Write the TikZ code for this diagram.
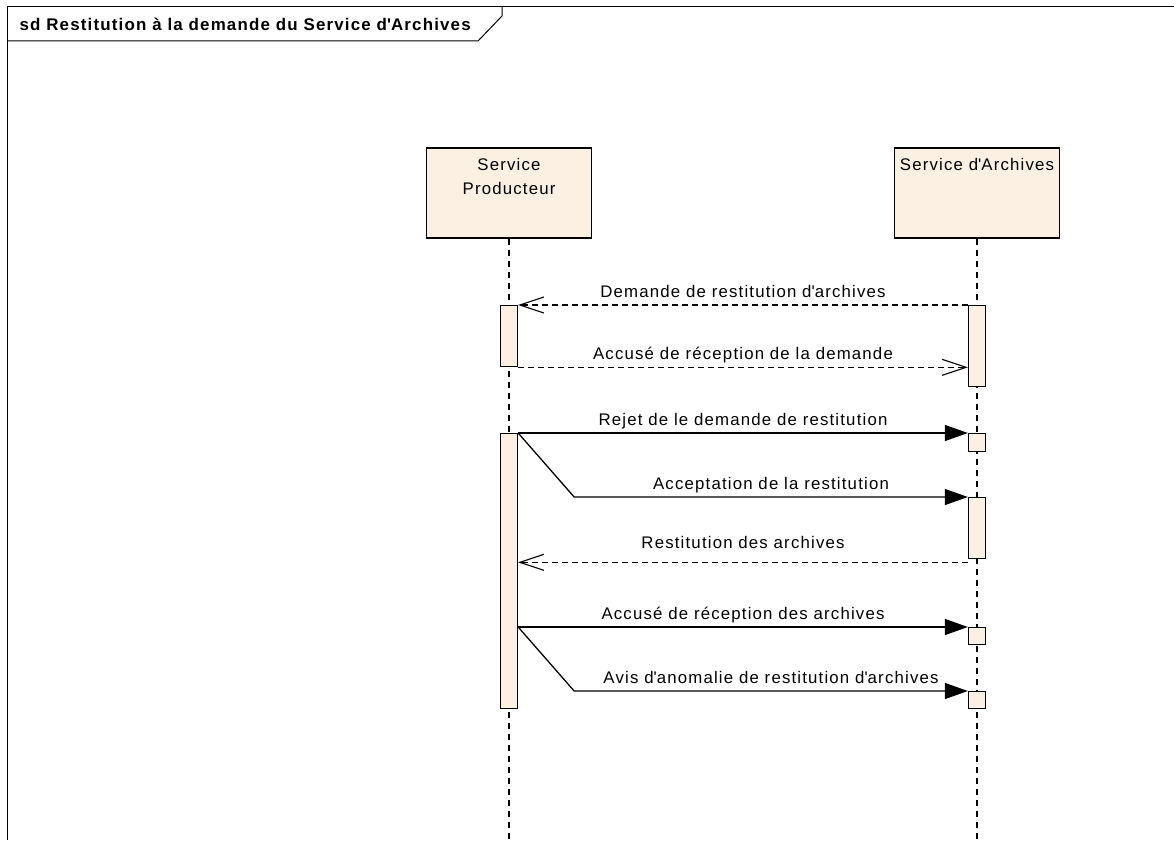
\documentclass[tikz,border=0pt]{standalone}
\usepackage{fontspec}
\setmainfont{Liberation Sans}[LetterSpace=7]
\usetikzlibrary{arrows.meta}
\definecolor{lifefill}{RGB}{251,240,226}
\newcommand{\apos}{\textquotesingle}

\begin{document}
\begin{tikzpicture}[x=1pt, y=-1pt,
    font=\fontsize{16.8}{24}\selectfont,
    head/.style={draw, line width=1.6pt, fill=lifefill, minimum width=165pt, minimum height=90pt, inner sep=0pt},
    act/.style={draw, line width=1.3pt, fill=lifefill, minimum width=17pt, inner sep=0pt, anchor=north},
    lifeline/.style={line width=1.2pt, dash pattern=on 6pt off 5pt},
    call/.style={line width=1.3pt, -{Triangle[length=23pt,width=16pt]}},
    reply/.style={line width=1.1pt, dash pattern=on 6pt off 4pt, -{Straight Barb[length=24pt,width=16pt,line width=1.1pt]}},
    msg/.style={anchor=base, yshift=8pt, inner sep=0pt}]
    \useasboundingbox (0,0) rectangle (1174,840);
    % frame and title tab
    \draw[line width=1pt] (7,840) -- (7,7) -- (1174,7);
    \draw[line width=1pt] (7,41) -- (478,41) -- (502,16) -- (502,7);
    \node[anchor=base west, font=\fontsize{16.9}{20}\bfseries] (title) at (16,31) {sd Restitution à la demande du Service d\apos Archives};
    % lifelines
    \node[head, label={[anchor=north, align=center, yshift=-8pt]north:Service\\Producteur}] (sp) at (509,193) {};
    \node[head, label={[anchor=north, align=center, yshift=-8pt]north:Service d\apos Archives}] (sa) at (977,193) {};
    \draw[lifeline] (sp) -- (sp |- 0,840);
    \draw[lifeline] (sa) -- (sa |- 0,840);
    % activations
    \node[act, minimum height=61pt] (sp1) at (509,305) {};
    \node[act, minimum height=81pt] (sa1) at (977,305) {};
    \node[act, minimum height=275pt] (sp2) at (509,433) {};
    \node[act, minimum height=18pt] (sa2) at (977,433) {};
    \node[act, minimum height=61pt] (sa3) at (977,497) {};
    \node[act, minimum height=17pt] (sa4) at (977,627) {};
    \node[act, minimum height=17pt] (sa5) at (977,691) {};
    % messages
    \draw[reply] (sa1.north west) -- node[msg] {Demande de restitution d\apos archives} (sp1.north east);
    \draw[reply] (sp1.south east) -- node[msg] {Accusé de réception de la demande} (sp1.south east -| sa1.west);
    \draw[call] (sp2.north east) -- node[msg] {Rejet de le demande de restitution} (sa2.north west);
    \draw[call] (sp2.north east) -- ++(56,64) -- node[msg] {Acceptation de la restitution} (sa3.north west);
    \coordinate (m5) at ([yshift=-3pt]sa3.south west);
    \draw[reply] (m5) -- node[msg, yshift=6pt] {Restitution des archives} (m5 -| sp2.east);
    \coordinate (m6) at (sa4.north west -| sp2.east);
    \draw[call] (m6) -- node[msg] {Accusé de réception des archives} (sa4.north west);
    \draw[call] (m6) -- ++(56,64) -- node[msg] {Avis d\apos anomalie de restitution d\apos archives} (sa5.north west);
\end{tikzpicture}
\end{document}
